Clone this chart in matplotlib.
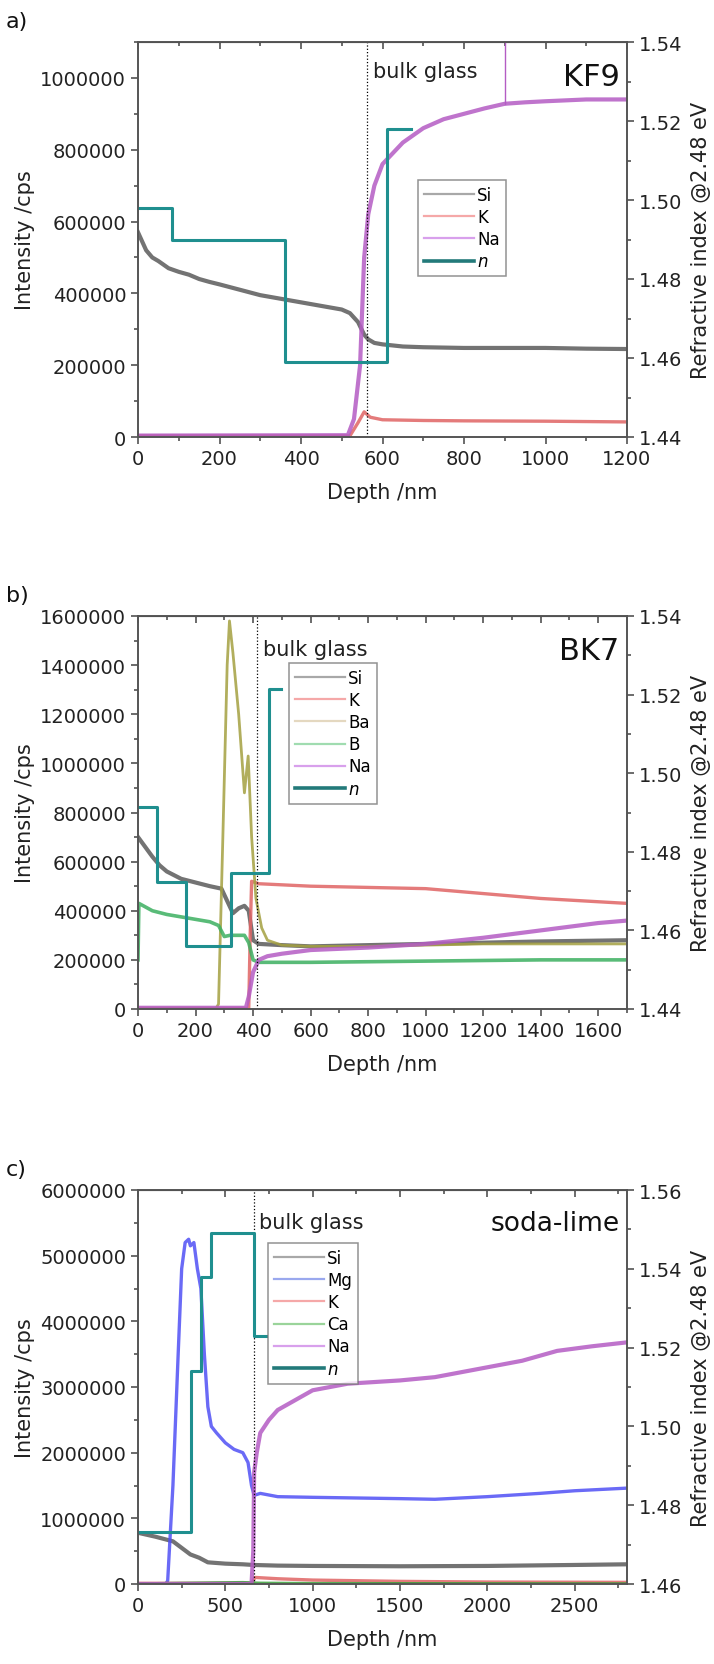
import matplotlib
matplotlib.use('Agg')
from matplotlib import pyplot as plt
from matplotlib.lines import Line2D
from matplotlib.ticker import MultipleLocator, FormatStrFormatter

plt.rcParams['font.family'] = 'DejaVu Sans'

# ---- panel a) KF9 ----
a_si_x = [0, 10, 20, 35, 50, 75, 100, 125, 150, 175, 200, 250, 300, 350, 400, 450, 500, 520, 540, 555, 565, 580, 600, 650, 700, 800, 900, 1000, 1100, 1200]
a_si_y = [570000, 545000, 520000, 500000, 490000, 470000, 460000, 452000, 440000, 432000, 425000, 410000, 395000, 385000, 375000, 365000, 355000, 345000, 320000, 285000, 272000, 262000, 258000, 252000, 250000, 248000, 248000, 248000, 246000, 245000]
a_k_x = [0, 520, 540, 555, 570, 600, 700, 800, 1000, 1200]
a_k_y = [3000, 3000, 40000, 70000, 55000, 48000, 46000, 45000, 44000, 42000]
a_na_x = [0, 515, 530, 545, 555, 565, 580, 600, 650, 700, 750, 800, 850, 900, 950, 1000, 1100, 1200]
a_na_y = [4000, 5000, 50000, 200000, 500000, 620000, 700000, 760000, 820000, 860000, 885000, 900000, 915000, 928000, 932000, 935000, 940000, 940000]
# single-channel spike in the Na signal
a_na_spike_x = [900, 900]
a_na_spike_y = [928000, 1100000]
a_n_x = [0, 83, 360, 610, 671]
a_n_y = [1.498, 1.490, 1.459, 1.518, 1.518]

# ---- panel b) BK7 ----
b_si_x = [0, 25, 50, 75, 100, 150, 200, 250, 290, 310, 330, 350, 370, 385, 400, 420, 500, 600, 800, 1000, 1200, 1400, 1700]
b_si_y = [700000, 660000, 620000, 585000, 560000, 530000, 515000, 500000, 490000, 440000, 390000, 410000, 420000, 400000, 280000, 265000, 260000, 255000, 260000, 265000, 270000, 275000, 280000]
b_k_x = [0, 385, 390, 395, 420, 600, 800, 1000, 1200, 1400, 1700]
b_k_y = [3000, 3000, 300000, 520000, 510000, 500000, 495000, 490000, 470000, 450000, 430000]
b_ba_x = [0, 270, 280, 295, 310, 318, 330, 350, 370, 383, 395, 410, 430, 450, 500, 600, 800, 1000, 1200, 1400, 1700]
b_ba_y = [0, 0, 20000, 700000, 1400000, 1580000, 1450000, 1200000, 880000, 1030000, 700000, 450000, 330000, 280000, 260000, 255000, 255000, 260000, 265000, 265000, 265000]
b_b_x = [0, 3, 50, 100, 150, 200, 250, 280, 300, 320, 370, 385, 400, 420, 600, 1000, 1400, 1700]
b_b_y = [200000, 430000, 400000, 385000, 375000, 365000, 355000, 340000, 295000, 300000, 300000, 270000, 200000, 190000, 190000, 195000, 200000, 200000]
b_na_x = [0, 375, 385, 400, 420, 450, 500, 600, 800, 1000, 1200, 1400, 1600, 1700]
b_na_y = [5000, 5000, 50000, 150000, 200000, 215000, 225000, 240000, 250000, 265000, 290000, 320000, 350000, 360000]
b_n_x = [0, 65, 167, 325, 454, 497]
b_n_y = [1.4914, 1.4724, 1.456, 1.4745, 1.5215, 1.5215]

# ---- panel c) soda-lime ----
c_si_x = [0, 100, 200, 250, 300, 350, 400, 500, 600, 660, 800, 1000, 1500, 2000, 2500, 2800]
c_si_y = [780000, 720000, 650000, 550000, 450000, 400000, 330000, 310000, 300000, 290000, 280000, 275000, 270000, 275000, 290000, 300000]
c_mg_x = [0, 160, 170, 200, 230, 250, 270, 290, 300, 320, 340, 360, 380, 400, 420, 450, 500, 550, 600, 630, 650, 665, 700, 800, 1000, 1500, 1700, 2000, 2300, 2500, 2800]
c_mg_y = [5000, 5000, 50000, 1500000, 3500000, 4800000, 5200000, 5250000, 5150000, 5200000, 4800000, 4500000, 3500000, 2700000, 2400000, 2300000, 2150000, 2050000, 2000000, 1850000, 1500000, 1350000, 1380000, 1330000, 1320000, 1300000, 1290000, 1330000, 1380000, 1420000, 1460000]
c_k_x = [0, 650, 670, 800, 1000, 1500, 2000, 2800]
c_k_y = [10000, 10000, 100000, 80000, 60000, 40000, 30000, 25000]
c_ca_x = [0, 600, 700, 1000, 2800]
c_ca_y = [10000, 30000, 20000, 15000, 10000]
c_na_x = [0, 650, 660, 665, 680, 700, 750, 800, 900, 1000, 1200, 1500, 1700, 2000, 2200, 2400, 2600, 2800]
c_na_y = [0, 0, 500000, 1700000, 2000000, 2300000, 2500000, 2650000, 2800000, 2950000, 3050000, 3100000, 3150000, 3300000, 3400000, 3550000, 3620000, 3680000]
c_n_x = [0, 301, 358, 418, 662, 735]
c_n_y = [1.4733, 1.514, 1.538, 1.549, 1.523, 1.523]

col = {'Si': '#5a5a5a', 'K': '#e06464', 'Na': '#b45cc4', 'Ba': '#a4a040',
       'B': '#3cb060', 'Mg': '#5050f5', 'Ca': '#3aa03a', 'n': '#1f8f8f'}
leg_col = {'Si': '#a8a8a8', 'K': '#f5a8a8', 'Na': '#d8a0ec', 'Ba': '#e4d8c0',
           'B': '#a0dcb0', 'Mg': '#9aa8ee', 'Ca': '#9ad49a', 'n': '#237a7a'}
# thicker band for the noisy plateaus
lw = {'Si': 3.0, 'K': 2.4, 'Na': 3.0, 'Ba': 2.0, 'B': 2.6, 'Mg': 2.4, 'Ca': 1.6}

fig = plt.figure(figsize=(7.14, 16.65), dpi=100)
txt = '#222222'


def panel(rect, letter, series, n_x, n_y, xmax, xmaj, xmin, ymax, ymaj, ymin,
          nlo, nhi, name, bulk_x, bulk_y, leg_bbox):
    ax = fig.add_axes(rect)
    for key, xs, ys in series:
        ax.plot(xs, ys, color=col[key], lw=lw[key], alpha=0.85, solid_joinstyle='round')
    ax.axvline(bulk_x, color='k', ls=':', lw=0.9)
    ax.set_xlim(0, xmax)
    ax.set_ylim(0, ymax)
    ax.xaxis.set_major_locator(MultipleLocator(xmaj))
    ax.xaxis.set_minor_locator(MultipleLocator(xmin))
    ax.yaxis.set_major_locator(MultipleLocator(ymaj))
    ax.yaxis.set_minor_locator(MultipleLocator(ymin))
    ax.yaxis.set_major_formatter(FormatStrFormatter('%d'))
    ax.tick_params(which='major', length=5, width=1.1, labelsize=14, colors='#444444', labelcolor=txt)
    ax.tick_params(which='minor', length=3, width=1.1, colors='#444444')
    ax.set_xlabel('Depth /nm', fontsize=15, color=txt, labelpad=10)
    ax.set_ylabel('Intensity /cps', fontsize=15, color=txt, labelpad=4)
    top = ax.secondary_xaxis('top')
    top.xaxis.set_major_locator(MultipleLocator(xmaj))
    top.xaxis.set_minor_locator(MultipleLocator(xmin))
    top.tick_params(which='both', direction='in', labeltop=False, colors='#444444')
    top.tick_params(which='major', length=5, width=1.1)
    top.tick_params(which='minor', length=3, width=1.1)

    ax2 = ax.twinx()
    ax2.plot(n_x, n_y, color=col['n'], lw=2.2, drawstyle='steps-post')
    ax2.set_ylim(nlo, nhi)
    ax2.yaxis.set_major_locator(MultipleLocator(0.02))
    ax2.yaxis.set_minor_locator(MultipleLocator(0.01))
    ax2.yaxis.set_major_formatter(FormatStrFormatter('%.2f'))
    ax2.tick_params(which='major', length=5, width=1.1, labelsize=14, colors='#444444', labelcolor=txt)
    ax2.tick_params(which='minor', length=3, width=1.1, colors='#444444')
    ax2.set_ylabel('Refractive index @2.48 eV', fontsize=15, color=txt, labelpad=6)
    for a in (ax, ax2):
        for s in a.spines.values():
            s.set_color('#555555')
            s.set_linewidth(1.2)

    ax.text(bulk_x + xmax * 0.012, bulk_y, 'bulk glass', fontsize=15, color=txt, va='center')
    ax.text(0.985, 0.95, name, transform=ax.transAxes, fontsize=22 if len(name) < 5 else 19,
            ha='right', va='top', color='#111111')

    handles = [Line2D([], [], color=leg_col[k], lw=1.6) for k, _, _ in series]
    labels = [k for k, _, _ in series]
    handles.append(Line2D([], [], color=leg_col['n'], lw=2.6))
    labels.append('$n$')
    leg = ax2.legend(handles, labels, loc='upper left', bbox_to_anchor=leg_bbox,
                     fontsize=12, frameon=True, fancybox=False, handlelength=3.0,
                     handletextpad=0.2, borderpad=0.35, labelspacing=0.25,
                     borderaxespad=0)
    leg.get_frame().set_edgecolor('#777777')
    leg.get_frame().set_linewidth(1.1)
    fig.text(0.008, rect[1] + rect[3] + 0.009, letter, fontsize=16, color='#111111')
    return ax


axl, axw = 138 / 714, 489 / 714

ax_a = panel([axl, 1 - 438 / 1665, axw, 395 / 1665], 'a)',
             [('Si', a_si_x, a_si_y), ('K', a_k_x, a_k_y), ('Na', a_na_x, a_na_y)],
             a_n_x, a_n_y, 1200, 200, 100, 1100000, 200000, 100000, 1.44, 1.54,
             'KF9', 563, 1020000, ((418 - 138) / 489, (438 - 181) / 395))
ax_a.plot(a_na_spike_x, a_na_spike_y, color=col['Na'], lw=1.0)

panel([axl, 1 - 1010 / 1665, axw, 393 / 1665], 'b)',
      [('Si', b_si_x, b_si_y), ('K', b_k_x, b_k_y), ('Ba', b_ba_x, b_ba_y),
       ('B', b_b_x, b_b_y), ('Na', b_na_x, b_na_y)],
      b_n_x, b_n_y, 1700, 200, 100, 1600000, 200000, 100000, 1.44, 1.54,
      'BK7', 415, 1465000, ((289 - 138) / 489, (1010 - 664) / 393))

panel([axl, 1 - 1585 / 1665, axw, 394 / 1665], 'c)',
      [('Si', c_si_x, c_si_y), ('Mg', c_mg_x, c_mg_y), ('K', c_k_x, c_k_y),
       ('Ca', c_ca_x, c_ca_y), ('Na', c_na_x, c_na_y)],
      c_n_x, c_n_y, 2800, 500, 250, 6000000, 1000000, 500000, 1.46, 1.56,
      'soda-lime', 662, 5510000, ((268 - 138) / 489, (1585 - 1244) / 394))

fig.savefig('out.png', dpi=100)
